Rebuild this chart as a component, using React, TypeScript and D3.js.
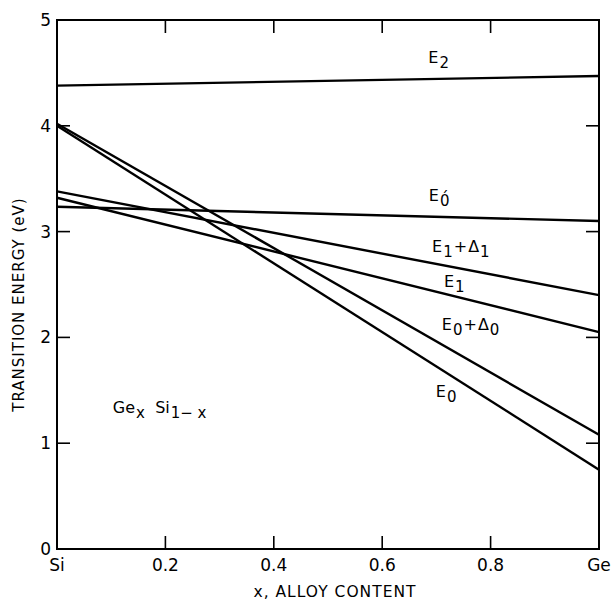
import { useEffect, useRef } from 'react';
import * as d3 from 'd3';

// transition energies (eV) at Si (x = 0) and Ge (x = 1)
const xEnds = [0, 1];
const E2 = [4.38, 4.47];
const E0prime = [3.235, 3.1];
const E1plusD1 = [3.38, 2.4];
const E1 = [3.32, 2.05];
const E0plusD0 = [4.02, 1.08];
const E0 = [4.0, 0.75];

const xTicks = [0, 0.2, 0.4, 0.6, 0.8, 1];
const xTickLabels = ['Si', '0.2', '0.4', '0.6', '0.8', 'Ge'];
const yTicks = [0, 1, 2, 3, 4, 5];

const series = [E2, E0prime, E1plusD1, E1, E0plusD0, E0];

type Piece = { t: string; sub?: boolean };

const App = () => {
  const ref = useRef<SVGSVGElement>(null);

  useEffect(() => {
    const svg = d3.select(ref.current);
    svg.selectAll('*').remove();

    const width = 611;
    const height = 600;
    const margin = { top: 20, right: 12, bottom: 51, left: 57 };
    const font = "'DejaVu Sans', Arial, sans-serif";

    const x = d3.scaleLinear().domain([0, 1]).range([margin.left, width - margin.right]);
    const y = d3.scaleLinear().domain([0, 5]).range([height - margin.bottom, margin.top]);

    const line = d3
      .line<number>()
      .x((_, i) => x(xEnds[i]))
      .y((d) => y(d));

    svg
      .selectAll('path.curve')
      .data(series)
      .enter()
      .append('path')
      .attr('class', 'curve')
      .attr('d', (d) => line(d))
      .attr('fill', 'none')
      .attr('stroke', '#000')
      .attr('stroke-width', 2.4);

    // frame
    svg
      .append('rect')
      .attr('x', x(0))
      .attr('y', y(5))
      .attr('width', x(1) - x(0))
      .attr('height', y(0) - y(5))
      .attr('fill', 'none')
      .attr('stroke', '#000')
      .attr('stroke-width', 2);

    const tl = 13;
    const inner = [1, 2, 3, 4];
    const innerX = [0.2, 0.4, 0.6, 0.8];
    const ticks = svg.append('g').attr('stroke', '#000').attr('stroke-width', 1.6);
    inner.forEach((v) => {
      ticks.append('line').attr('x1', x(0)).attr('x2', x(0) + tl).attr('y1', y(v)).attr('y2', y(v));
      ticks.append('line').attr('x1', x(1)).attr('x2', x(1) - tl).attr('y1', y(v)).attr('y2', y(v));
    });
    innerX.forEach((v) => {
      ticks.append('line').attr('x1', x(v)).attr('x2', x(v)).attr('y1', y(0)).attr('y2', y(0) - tl);
      ticks.append('line').attr('x1', x(v)).attr('x2', x(v)).attr('y1', y(5)).attr('y2', y(5) + tl);
    });

    // tick labels
    svg
      .selectAll('text.ytick')
      .data(yTicks)
      .enter()
      .append('text')
      .attr('class', 'ytick')
      .attr('x', x(0) - 6)
      .attr('y', (d) => y(d) + 6)
      .attr('text-anchor', 'end')
      .attr('font-family', font)
      .attr('font-size', 17)
      .text((d) => d);

    svg
      .selectAll('text.xtick')
      .data(xTicks)
      .enter()
      .append('text')
      .attr('class', 'xtick')
      .attr('x', (d) => x(d))
      .attr('y', y(0) + 22)
      .attr('text-anchor', 'middle')
      .attr('font-family', font)
      .attr('font-size', 17)
      .text((_, i) => xTickLabels[i]);

    svg
      .append('text')
      .attr('transform', `translate(24,${(y(0) + y(5)) / 2 + 20}) rotate(-90)`)
      .attr('text-anchor', 'middle')
      .attr('font-family', font)
      .attr('font-size', 15)
      .attr('letter-spacing', 1)
      .text('TRANSITION ENERGY (eV)');

    svg
      .append('text')
      .attr('x', 335)
      .attr('y', 597)
      .attr('text-anchor', 'middle')
      .attr('font-family', font)
      .attr('font-size', 15.5)
      .attr('letter-spacing', 1)
      .text('x, ALLOY CONTENT');

    // curve labels, anchored in data coordinates
    const labels: { at: [number, number]; parts: Piece[] }[] = [
      { at: [0.685, 4.594], parts: [{ t: 'E' }, { t: '2', sub: true }] },
      { at: [0.686, 3.289], parts: [{ t: 'E' }, { t: '0\u0301', sub: true }] },
      { at: [0.692, 2.807], parts: [{ t: 'E' }, { t: '1', sub: true }, { t: '+' }, { t: 'Δ' }, { t: '1', sub: true }] },
      { at: [0.714, 2.476], parts: [{ t: 'E' }, { t: '1', sub: true }] },
      { at: [0.71, 2.07], parts: [{ t: 'E' }, { t: '0', sub: true }, { t: '+' }, { t: 'Δ' }, { t: '0', sub: true }] },
      { at: [0.699, 1.437], parts: [{ t: 'E' }, { t: '0', sub: true }] },
      { at: [0.103, 1.285], parts: [{ t: 'Ge' }, { t: 'x', sub: true }, { t: '  Si' }, { t: '1− x', sub: true }] },
    ];

    labels.forEach((lab) => {
      const txt = svg
        .append('text')
        .attr('x', x(lab.at[0]))
        .attr('y', y(lab.at[1]))
        .attr('font-family', font)
        .attr('font-size', 16)
        .attr('xml:space', 'preserve')
        .style('white-space', 'pre');
      let down = false;
      lab.parts.forEach((p) => {
        const dy = p.sub && !down ? 5 : !p.sub && down ? -5 : 0;
        down = !!p.sub;
        const ts = txt.append('tspan').attr('dy', dy).text(p.t);
        if (p.sub) ts.attr('font-size', 15).attr('dx', 1);
        else if (p.t === '+' || p.t === 'Δ') ts.attr('dx', 1);
      });
    });
  }, []);

  return (
    <svg
      ref={ref}
      width={611}
      height={600}
      style={{ position: 'absolute', left: 0, top: 0, background: '#fff' }}
    ></svg>
  );
};

export default App;
